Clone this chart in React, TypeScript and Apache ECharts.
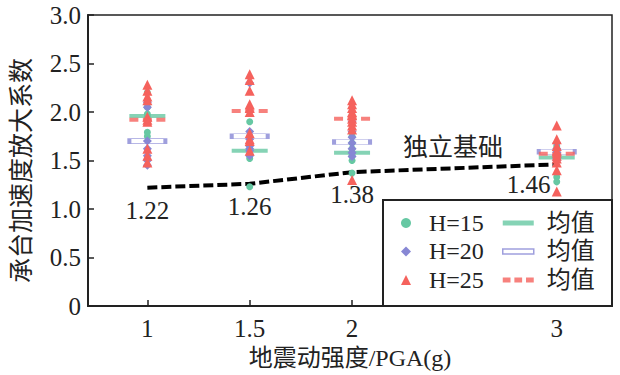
import React, { useEffect, useRef } from 'react';
import * as echarts from 'echarts';

const pgaLevels = [1, 1.5, 2, 3];
const xTickValues = [1, 1.5, 2, 3];

const h15Values = [
  [2.2, 2.12, 2.05, 1.98, 1.95, 1.79, 1.75],
  [1.9, 1.75, 1.65, 1.6, 1.55, 1.52, 1.23],
  [1.75, 1.68, 1.62, 1.58, 1.55, 1.5, 1.37],
  [1.65, 1.6, 1.57, 1.55, 1.52, 1.33, 1.28],
];
const h20Values = [
  [2.1, 2.05, 1.7, 1.62, 1.55, 1.5, 1.45],
  [2.3, 1.8, 1.72, 1.65, 1.62, 1.6, 1.55],
  [1.9, 1.8, 1.74, 1.68, 1.62, 1.58, 1.54],
  [1.68, 1.62, 1.6, 1.58, 1.55, 1.52, 1.5],
];
const h25Values = [
  [2.28, 2.22, 2.16, 2.12, 1.95, 1.92, 1.9, 1.62, 1.55, 1.48],
  [2.39, 2.33, 2.22, 2.08, 2.04, 2.0, 1.78, 1.72, 1.7, 1.6],
  [2.12, 2.08, 2.04, 2.0, 1.97, 1.93, 1.9, 1.86, 1.82, 1.3],
  [1.86, 1.72, 1.65, 1.6, 1.58, 1.55, 1.52, 1.48, 1.4, 1.18],
];
const h15Mean = [1.96, 1.6, 1.58, 1.53];
const h20Mean = [1.7, 1.75, 1.69, 1.59];
const h25Mean = [1.92, 2.01, 1.93, 1.57];
const independentFoundation = [1.22, 1.26, 1.38, 1.46];

const GREEN = '#66c8a3';
const BLUE = '#8787d4';
const RED = '#f5625d';
const INK = '#222';
const FONT = '"Liberation Serif", "Noto Sans CJK SC", serif';

const pairs = (cols: number[][]) =>
  cols.flatMap((col, i) => col.map((v) => [pgaLevels[i], v]));
const meanPairs = (vals: number[]) => vals.map((v, i) => [pgaLevels[i], v]);

const DASH_PATH = 'path://M0,0h9v4h-9z M13.5,0h9v4h-9z M27,0h9v4h-9z';

export default function App() {
  const ref = useRef<HTMLDivElement>(null);
  useEffect(() => {
    if (!ref.current) return;
    const chart = echarts.init(ref.current, undefined, { renderer: 'svg' });
    const txt = { color: INK, fontFamily: FONT, fontSize: 24 };
    chart.setOption({
      animation: false,
      grid: {
        left: 88,
        right: 8,
        top: 15,
        bottom: 69,
        show: true,
        borderColor: INK,
        borderWidth: 1.5,
      },
      xAxis: {
        type: 'value',
        min: 0.71,
        max: 3.27,
        name: '地震动强度/PGA(g)',
        nameLocation: 'middle',
        nameGap: 38,
        nameTextStyle: { ...txt },
        axisLine: { show: true, onZero: false, lineStyle: { color: INK, width: 2 } },
        axisTick: { show: true, inside: true, length: 6, customValues: xTickValues, lineStyle: { color: INK, width: 1.5 } },
        axisLabel: { ...txt, fontSize: 25, margin: 10, customValues: xTickValues, formatter: (v: number) => String(v) },
        splitLine: { show: false },
      },
      yAxis: {
        type: 'value',
        min: 0,
        max: 3,
        interval: 0.5,
        name: '承台加速度放大系数',
        nameLocation: 'middle',
        nameGap: 54,
        nameTextStyle: { ...txt, fontSize: 25, padding: [0, 20, 0, 0] },
        axisLine: { show: true, lineStyle: { color: INK, width: 2 } },
        axisTick: { show: true, inside: true, length: 6, lineStyle: { color: INK, width: 1.5 } },
        axisLabel: { ...txt, fontSize: 25, margin: 7, formatter: (v: number) => (v === 0 ? '0' : v.toFixed(1)) },
        splitLine: { show: false },
      },
      legend: [
        {
          data: ['H=15', 'H=20', 'H=25'],
          orient: 'vertical',
          left: 396,
          top: 206,
          itemWidth: 10,
          itemHeight: 10,
          symbolKeepAspect: true,
          itemGap: 4.5,
          textStyle: { ...txt, padding: [0, 0, 0, 13] },
          z: 10,
        },
        {
          data: [
            { name: '均值', icon: 'path://M0,0h31v4h-31z' },
            { name: '均值 ', icon: 'path://M0,0h31v5h-31z', itemStyle: { color: '#fff', borderColor: BLUE, borderWidth: 1.5 } },
            { name: '均值  ', icon: DASH_PATH },
          ],
          formatter: (n: string) => n.trim(),
          orient: 'vertical',
          left: 497,
          top: 206,
          itemWidth: 31,
          itemHeight: 5,
          symbolKeepAspect: false,
          itemGap: 4.5,
          textStyle: { ...txt, padding: [0, 0, 0, 8] },
          z: 10,
        },
      ],
      graphic: [
        {
          type: 'rect',
          z: 5,
          shape: { x: 383, y: 200, width: 229, height: 106 },
          style: { fill: '#fff', stroke: INK, lineWidth: 2 },
        },
        {
          type: 'text',
          x: 403,
          y: 147,
          z: 5,
          style: { text: '独立基础', fill: INK, font: `25px ${FONT}`, verticalAlign: 'middle' },
        },
      ],
      series: [
        {
          name: '均值',
          type: 'scatter',
          z: 2,
          symbol: 'rect',
          symbolSize: [36, 4],
          itemStyle: { color: GREEN },
          data: meanPairs(h15Mean),
        },
        {
          name: '均值 ',
          type: 'scatter',
          z: 2,
          symbol: 'rect',
          symbolSize: [36, 5],
          itemStyle: { color: '#fff', borderColor: BLUE, borderWidth: 1.5 },
          data: meanPairs(h20Mean),
        },
        {
          name: '均值  ',
          type: 'scatter',
          z: 2,
          symbol: DASH_PATH,
          symbolSize: [36, 4],
          itemStyle: { color: RED },
          data: meanPairs(h25Mean),
        },
        {
          name: '独立基础',
          type: 'line',
          z: 3,
          symbol: 'circle',
          symbolSize: 0.1,
          lineStyle: { color: '#000', width: 4, type: [10, 4] },
          itemStyle: { color: '#000' },
          label: {
            show: true,
            position: 'bottom',
            distance: 10,
            ...txt,
            fontSize: 25,
            formatter: (p: any) => p.value[1].toFixed(2),
          },
          data: independentFoundation.map((v, i) => ({
            value: [pgaLevels[i], v],
            label: i === 3 ? { offset: [-28, -2] } : undefined,
          })),
        },
        {
          name: 'H=15',
          type: 'scatter',
          z: 4,
          symbol: 'circle',
          symbolSize: 7,
          itemStyle: { color: GREEN, opacity: 1 },
          data: pairs(h15Values),
        },
        {
          name: 'H=20',
          type: 'scatter',
          z: 4,
          symbol: 'diamond',
          symbolSize: 9,
          itemStyle: { color: BLUE, opacity: 1 },
          data: pairs(h20Values),
        },
        {
          name: 'H=25',
          type: 'scatter',
          z: 4,
          symbol: 'triangle',
          symbolSize: 10,
          itemStyle: { color: RED, opacity: 1 },
          data: pairs(h25Values),
        },
      ],
    });
    return () => chart.dispose();
  }, []);
  return (
    <div
      ref={ref}
      style={{ position: 'absolute', left: 0, top: 0, width: 620, height: 375 }}
    />
  );
}
